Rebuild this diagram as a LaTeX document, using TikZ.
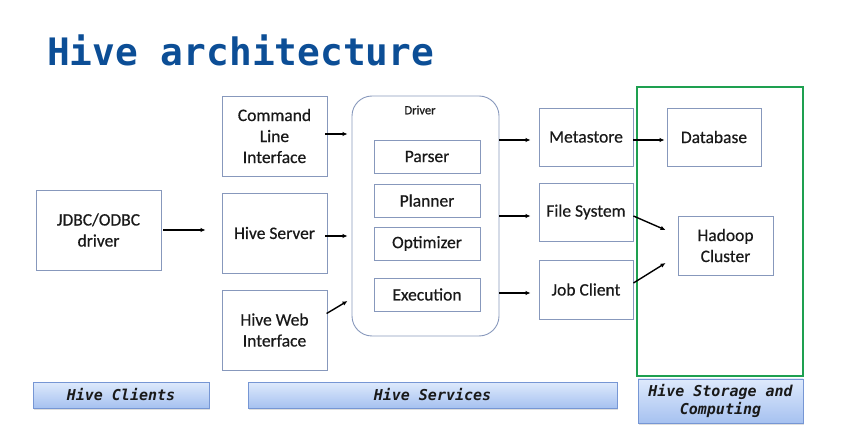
\documentclass[tikz,border=0pt]{standalone}
\usepackage{fontspec}
\setmainfont{Carlito}
\newfontfamily\boxfont[FakeBold=0.5]{Carlito}
\newfontfamily\titlefont{DejaVu Sans Mono}
\newfontfamily\barfont{DejaVu Sans Mono}
\usetikzlibrary{arrows.meta,shadows}
\definecolor{titleblue}{RGB}{12,78,150}
\definecolor{boxline}{RGB}{135,152,188}
\definecolor{greenframe}{RGB}{30,160,80}
\definecolor{bartop}{RGB}{222,234,252}
\definecolor{barbot}{RGB}{166,193,240}
\definecolor{barline}{RGB}{118,150,212}
\definecolor{txt}{RGB}{25,25,25}
\tikzset{
  bx/.style={draw=boxline, line width=0.9pt, fill=white, inner sep=0pt, text=txt,
    align=center, font=\boxfont\fontsize{17.5}{21}\selectfont},
  sub/.style={bx, minimum width=106pt, minimum height=33pt},
  bar/.style={draw=barline, line width=0.8pt, top color=bartop, bottom color=barbot,
    inner sep=0pt, align=center, text=txt,
    font=\barfont\bfseries\itshape\fontsize{15}{18}\selectfont,
    drop shadow={opacity=0.25, shadow xshift=1pt, shadow yshift=-2pt}},
  arr/.style={-{Latex[length=5pt,width=4.5pt]}, line width=1.4pt, black}
}
\begin{document}
\begin{tikzpicture}[x=1pt,y=-1pt]
\useasboundingbox (0,0) rectangle (841,446);
\node[anchor=base west, text=titleblue, inner sep=0pt,
  font=\titlefont\bfseries\fontsize{37.8}{40}\selectfont] (title) at (47,66) {Hive architecture};

% green frame
\draw[greenframe, line width=2pt] (637,87) rectangle (803,376);

\node[bx, minimum width=125pt, minimum height=80pt] (jdbc) at (98.5,230) {JDBC/ODBC\\driver};
\node[bx, minimum width=105pt, minimum height=80pt] (cli) at (274.5,136) {Command\\Line\\Interface};
\node[bx, minimum width=105pt, minimum height=80pt] (hs) at (274.5,233) {Hive Server};
\node[bx, minimum width=105pt, minimum height=80pt] (web) at (274.5,330) {Hive Web\\Interface};

\node[draw=boxline, line width=0.9pt, rounded corners=20pt, minimum width=147pt,
  minimum height=240pt, inner sep=0pt] (driver) at (425.5,216) {};
\node[text=txt, font=\boxfont\fontsize{12.5}{14}\selectfont, inner sep=0pt] (drvlabel) at (420,110) {Driver};
\node[sub] (parser) at (427,156.5) {Parser};
\node[sub] (planner) at (427,200.5) {Planner};
\node[sub] (optimizer) at (427,243.5) {Optimizer};
\node[sub] (execution) at (427,294.5) {Execution};

\node[bx, minimum width=94pt, minimum height=58pt] (meta) at (586,137) {Metastore};
\node[bx, minimum width=94pt, minimum height=58pt] (fs) at (586,212) {File System};
\node[bx, minimum width=94pt, minimum height=59pt] (jc) at (586,289.5) {Job Client};
\node[bx, minimum width=94pt, minimum height=58pt] (db) at (714,137) {Database};
\node[bx, minimum width=95pt, minimum height=59pt] (hadoop) at (725.5,245.5) {Hadoop\\Cluster};

% arrows
\draw[arr, shorten <=2pt, shorten >=16pt] (jdbc.east) -- (jdbc.east -| hs.west);
\draw[arr, shorten <=-2pt, shorten >=4pt] ([yshift=2pt]cli.east) -- ([yshift=2pt]cli.east -| driver.west);
\draw[arr, shorten <=-2pt, shorten >=4pt] ([yshift=-3pt]hs.east) -- ([yshift=-3pt]hs.east -| driver.west);
\draw[arr, shorten <=-1pt] ([yshift=17pt]web.east) -- ([xshift=-4pt,yshift=29pt]web.east -| driver.west);
\draw[arr, shorten >=8pt] ([yshift=-3pt]meta.west -| driver.east) -- ([yshift=-3pt]meta.west);
\draw[arr, shorten >=8pt] ([yshift=-4pt]fs.west -| driver.east) -- ([yshift=-4pt]fs.west);
\draw[arr, shorten >=8pt] ([yshift=-3.5pt]jc.west -| driver.east) -- ([yshift=-3.5pt]jc.west);
\draw[arr, shorten >=2pt] ([yshift=-3pt]meta.east) -- ([yshift=-3pt]meta.east -| db.west);
\draw[arr] ([yshift=-4pt]fs.east) -- ([xshift=-12pt,yshift=15.5pt]hadoop.west);
\draw[arr] ([yshift=6.5pt]jc.east) -- ([xshift=-12pt,yshift=-17.5pt]hadoop.west);

% bottom bars
\node[bar, minimum width=176pt, minimum height=26pt] (clients) at (121,395) {Hive Clients};
\node[bar, minimum width=369pt, minimum height=26pt] (services) at (432.5,395) {Hive Services};
\node[bar, minimum width=165pt, minimum height=44pt] (storage) at (720.5,401) {Hive Storage and\\Computing};
\end{tikzpicture}
\end{document}
